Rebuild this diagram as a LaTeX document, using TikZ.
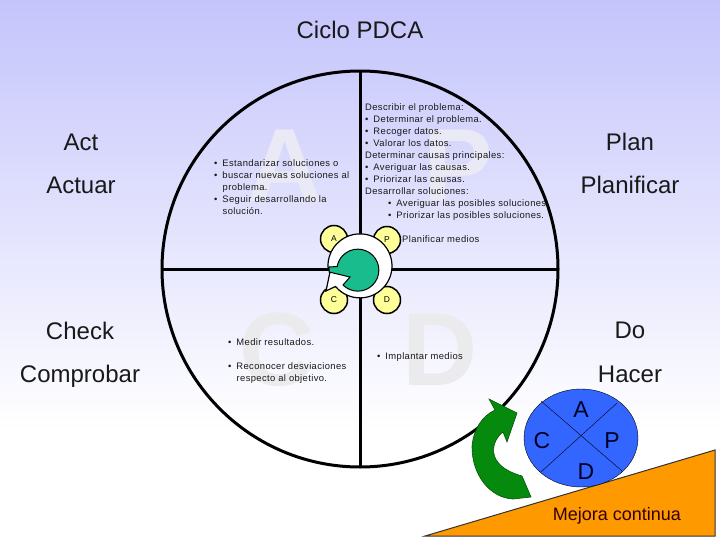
\documentclass[tikz,border=0pt]{standalone}
\usepackage{fontspec}
\setmainfont{Liberation Sans}
\newfontfamily\spacedfont[LetterSpace=4]{Liberation Sans}
\usetikzlibrary{calc,shapes.geometric}
\definecolor{bgtop}{HTML}{C4C4FC}
\definecolor{bigupper}{HTML}{EAEAF6}
\definecolor{biglower}{HTML}{EBEBEE}
\definecolor{stepyellow}{HTML}{FFFF99}
\definecolor{wheelteal}{HTML}{19BC8C}
\definecolor{wheelblue}{HTML}{3366FF}
\definecolor{arrowgreen}{HTML}{068A0E}
\definecolor{rampor}{HTML}{FF9900}
\tikzset{
    title text/.style={font=\fontsize{24}{28}\selectfont, text=black!90, inner sep=0pt},
    side text/.style={font=\fontsize{24}{28}\selectfont, text=black!90, inner sep=0pt},
    big letter/.style={font=\bfseries\fontsize{104}{104}\selectfont, inner sep=0pt},
    small text/.style={font=\spacedfont\fontsize{9.4}{12}\selectfont, align=left, anchor=north west, inner sep=0pt, text=black!90},
    step circle/.style={circle, draw=black, line width=1.5pt, fill=stepyellow, minimum size=27pt, inner sep=0pt, font=\fontsize{8.5}{10}\selectfont},
    wheel letter/.style={font=\fontsize{23}{26}\selectfont, text=black!85!blue, inner sep=0pt},
}
\newcommand{\bul}{\textbullet\hspace{5pt}}
\begin{document}
\begin{tikzpicture}[x=1pt, y=-1pt]
    \useasboundingbox (0,0) rectangle (720,540);

    % Background
    \shade [top color=bgtop, bottom color=white] (0,0) rectangle (720,430);
    \fill [white] (0,430) rectangle (720,540);

    % Big letters
    \node [big letter, text=bigupper] (bigA) at (285,166) {A};
    \node [big letter, text=bigupper] (bigP) at (458,166) {P};
    \node [big letter, text=biglower] (bigC) at (277,350) {C};
    \node [big letter, text=biglower] (bigD) at (440,350) {D};

    % Wheel
    \coordinate (center) at (360,269);
    \draw [line width=3pt] (center) circle (198pt);
    \coordinate (top) at (360,71);
    \coordinate (bottom) at (360,467);
    \coordinate (left) at (162,269);
    \coordinate (right) at (558,269);
    \draw [line width=3pt] (top) -- (bottom);
    \draw [line width=3pt] (left) -- (right);

    % Titles
    \node [title text] (title) at (360,30) {Ciclo PDCA};
    \foreach \t/\x/\y [count=\i] in {Act/81/142, Actuar/81/185, Check/80/331, Comprobar/80/376, Plan/630/142, Planificar/630/185, Do/630/330, Hacer/630/374}
        \node [side text] (side-\i) at (\x,\y) {\t};

    % Texts
    \node [small text] (textA) at (214,159) {\bul Estandarizar soluciones o\\\bul buscar nuevas soluciones al\\\hspace*{8.5pt}problema.\\\bul Seguir desarrollando la\\\hspace*{8.5pt}solución.};
    \node [small text] (textP) at (365,103) {Describir el problema:\\\bul Determinar el problema.\\\bul Recoger datos.\\\bul Valorar los datos.\\Determinar causas principales:\\\bul Averiguar las causas.\\\bul Priorizar las causas.\\Desarrollar soluciones:\\\hspace*{23pt}\bul Averiguar las posibles soluciones.\\\hspace*{23pt}\bul Priorizar las posibles soluciones.};
    \node [small text] (textM) at (402,235) {Planificar medios};
    \node [small text] (textC) at (228,338) {\bul Medir resultados.\\[12pt]\bul Reconocer desviaciones\\\hspace*{8.5pt}respecto al objetivo.};
    \node [small text] (textD) at (377,352) {\bul Implantar medios};

    % Small circles
    \foreach \l/\x/\y in {A/334/239, P/387/240, C/334/300, D/387/300}
        \node [step circle] (step-\l) at (\x,\y) {\l};

    % Central arrow
    \draw [fill=white, line width=1.2pt] (328,267) arc (182:-140:32pt) -- (326,291) -- (330,272) -- cycle;
    \draw [fill=wheelteal, line width=1pt] (350,277) -- (343,285) arc (225:530:21pt) -- (329,267) -- (329,272) -- cycle;

    % Ramp
    \draw [fill=rampor, draw=black!80, line width=1pt] (425,536) -- (715,450) -- (715,536) -- cycle;
    \node [font=\fontsize{18}{20}\selectfont, text=black!80!red, inner sep=0pt] (ramp) at (617,516) {Mejora continua};

    % PDCA wheel
    \node [ellipse, draw=black, fill=wheelblue, minimum width=114pt, minimum height=98pt, inner sep=0pt] (wheel) at (581,438) {};
    \coordinate (wheel-nw) at (541,401);
    \coordinate (wheel-se) at (622,471);
    \coordinate (wheel-ne) at (617,403);
    \coordinate (wheel-sw) at (541,472);
    \draw (wheel-nw) -- (wheel-se);
    \draw (wheel-ne) -- (wheel-sw);
    \foreach \l/\x/\y in {A/581/410, P/612/441, C/542/441, D/586/472}
        \node [wheel letter] (letter-\l) at (\x,\y) {\l};

    % Green arrow
    \draw [fill=arrowgreen, draw=black!40!arrowgreen, line width=0.6pt] (489,399) -- (517,413) -- (507,442) -- (503,432)
        .. controls (492,440) and (483,465) .. (522,476) -- (531,497) -- (513,499)
        .. controls (490,498) and (472,475) .. (472,447)
        .. controls (473,430) and (482,416) .. (495,410) -- cycle;
\end{tikzpicture}
\end{document}
